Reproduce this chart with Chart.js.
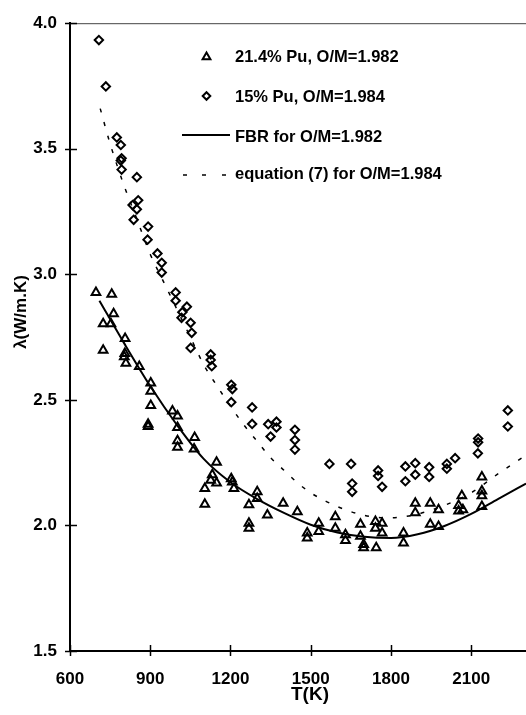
<!DOCTYPE html>
<html>
<head>
<meta charset="utf-8">
<script src="https://cdn.jsdelivr.net/npm/chart.js@4.4.1/dist/chart.umd.min.js"></script>
<style>
  html, body { margin: 0; padding: 0; background: #fff; overflow: hidden; }
  #wrap { position: absolute; left: 0; top: 0; width: 526px; height: 715px; }
</style>
</head>
<body>
<div id="wrap"><canvas id="chart"></canvas></div>
<script>
// 21.4% Pu, O/M=1.982 (triangles)
const triT = [697, 756, 763, 724, 753, 806, 724, 805, 803, 809, 859, 902, 902, 902, 892, 892, 983, 1002, 1002, 1002,
  1002, 1066, 1064, 1148, 1132, 1126, 1148, 1104, 1104, 1203, 1207, 1213, 1300, 1300, 1269, 1269, 1269, 1338, 1397, 1450,
  1487, 1487, 1530, 1530, 1592, 1592, 1630, 1630, 1686, 1686, 1698, 1698, 1742, 1742, 1767, 1767, 1745, 1847, 1847, 1891,
  1891, 1947, 1978, 1947, 1978, 2053, 2065, 2053, 2069, 2140, 2140, 2140, 2140];
const triLambda = [2.928, 2.921, 2.843, 2.803, 2.803, 2.744, 2.698, 2.685, 2.672, 2.646, 2.633, 2.567, 2.534, 2.478, 2.403, 2.394, 2.456, 2.436, 2.390, 2.337,
  2.311, 2.350, 2.304, 2.252, 2.202, 2.180, 2.169, 2.147, 2.084, 2.186, 2.173, 2.147, 2.134, 2.107, 2.082, 2.009, 1.989, 2.042, 2.088, 2.055,
  1.970, 1.950, 2.009, 1.976, 2.035, 1.989, 1.963, 1.940, 2.005, 1.957, 1.924, 1.911, 2.016, 1.989, 2.009, 1.970, 1.911, 1.970, 1.930, 2.088,
  2.051, 2.088, 2.062, 2.005, 1.996, 2.079, 2.118, 2.058, 2.062, 2.193, 2.137, 2.118, 2.075];

// 15% Pu, O/M=1.984 (diamonds)
const diaT = [708, 734, 775, 790, 793, 790, 793, 850, 855, 834, 850, 838, 892, 890, 927, 943, 943, 995, 995, 1037,
  1020, 1017, 1051, 1055, 1051, 1126, 1126, 1130, 1203, 1207, 1203, 1281, 1281, 1341, 1372, 1372, 1350, 1441, 1441, 1441,
  1570, 1651, 1655, 1655, 1752, 1752, 1767, 1854, 1891, 1891, 1854, 1943, 1943, 2009, 2009, 2040, 2126, 2126, 2125, 2237, 2237];
const diaLambda = [3.933, 3.748, 3.545, 3.515, 3.462, 3.453, 3.417, 3.387, 3.295, 3.276, 3.259, 3.217, 3.190, 3.138, 3.083, 3.046, 3.007, 2.928, 2.895, 2.871,
  2.849, 2.827, 2.807, 2.767, 2.707, 2.681, 2.659, 2.634, 2.560, 2.543, 2.491, 2.470, 2.404, 2.403, 2.413, 2.390, 2.354, 2.381, 2.340, 2.302,
  2.245, 2.245, 2.167, 2.134, 2.219, 2.197, 2.154, 2.235, 2.248, 2.202, 2.176, 2.232, 2.193, 2.245, 2.226, 2.268, 2.346, 2.331, 2.287, 2.458, 2.394];

// FBR for O/M=1.982 (solid curve)
const fbrT = [710, 800, 900, 1000, 1100, 1200, 1300, 1400, 1500, 1600, 1700, 1800, 1900, 2000, 2100, 2200, 2305];
const fbrLambda = [2.895, 2.73, 2.555, 2.40, 2.265, 2.172, 2.105, 2.05, 2.003, 1.972, 1.955, 1.950, 1.965, 1.998, 2.046, 2.105, 2.167];

// equation (7) for O/M=1.984 (dashed curve)
const eqT = [713, 750, 800, 850, 900, 950, 1000, 1050, 1100, 1150, 1200, 1250, 1300, 1350, 1400, 1450, 1500, 1550,
  1600, 1650, 1700, 1750, 1800, 1850, 1900, 2000, 2100, 2200, 2305];
const eqLambda = [3.66, 3.52, 3.36, 3.22, 3.08, 2.97, 2.86, 2.75, 2.64, 2.555, 2.475, 2.40, 2.335, 2.27, 2.22, 2.17, 2.13, 2.10,
  2.075, 2.055, 2.04, 2.032, 2.03, 2.035, 2.045, 2.08, 2.13, 2.205, 2.28];

const legendLabels = ["21.4% Pu, O/M=1.982", "15% Pu, O/M=1.984", "FBR for O/M=1.982", "equation (7) for O/M=1.984"];
const xTitle = "T(K)";
const yTitle = "λ(W/m.K)";

const tickFont = { family: "'Liberation Sans', Arial, sans-serif", size: 17, weight: "bold" };
const boldFont = (size) => `bold ${size}px 'Liberation Sans', Arial, sans-serif`;

const toPoints = (xs, ys) => xs.map((x, i) => ({ x: x, y: ys[i] }));

function strokeLine(ctx, x1, y1, x2, y2) {
  ctx.beginPath();
  ctx.moveTo(x1, y1);
  ctx.lineTo(x2, y2);
  ctx.stroke();
}

function triangleMark(ctx, cx, cy, r) {
  ctx.beginPath();
  ctx.moveTo(cx, cy - r);
  ctx.lineTo(cx + r * 0.866, cy + r * 0.5);
  ctx.lineTo(cx - r * 0.866, cy + r * 0.5);
  ctx.closePath();
  ctx.stroke();
}

function diamondMark(ctx, cx, cy, r) {
  ctx.beginPath();
  ctx.moveTo(cx - r, cy);
  ctx.lineTo(cx, cy - r);
  ctx.lineTo(cx + r, cy);
  ctx.lineTo(cx, cy + r);
  ctx.closePath();
  ctx.stroke();
}

// frame bits, crossing tick marks, axis titles and the in-plot legend
const decorations = {
  id: "decorations",
  afterDraw(chart) {
    const { ctx, chartArea: a, scales } = chart;
    ctx.save();
    ctx.strokeStyle = "#444";
    ctx.lineWidth = 1;
    strokeLine(ctx, a.left, a.top + 0.5, chart.width, a.top + 0.5);

    ctx.strokeStyle = "#000";
    ctx.lineWidth = 1.5;
    scales.y.ticks.forEach((t) => {
      const py = Math.round(scales.y.getPixelForValue(t.value)) + 0.5;
      strokeLine(ctx, a.left - 5, py, a.left + 7, py);
    });
    scales.x.ticks.forEach((t) => {
      const px = Math.round(scales.x.getPixelForValue(t.value)) + 0.5;
      strokeLine(ctx, px, a.bottom - 6, px, a.bottom + 5);
    });

    ctx.fillStyle = "#000";
    ctx.font = boldFont(19);
    ctx.textAlign = "center";
    ctx.textBaseline = "middle";
    ctx.fillText(xTitle, 310, 695);

    ctx.save();
    ctx.translate(21, 312);
    ctx.rotate(-Math.PI / 2);
    ctx.font = boldFont(17);
    ctx.fillText(yTitle, 0, 0);
    ctx.restore();

    // legend
    ctx.font = boldFont(16.5);
    ctx.textAlign = "left";
    ctx.textBaseline = "alphabetic";
    const baselines = [61.5, 101.5, 141.5, 178.5];
    legendLabels.forEach((label, i) => ctx.fillText(label, 235, baselines[i]));

    ctx.lineWidth = 2;
    triangleMark(ctx, 206.5, 57, 4.5);
    diamondMark(ctx, 206.5, 96, 3.8);
    strokeLine(ctx, 182, 135, 230, 135);
    ctx.lineWidth = 1.5;
    [183, 202, 222].forEach((dx) => strokeLine(ctx, dx, 175, dx + 4, 175));
    ctx.restore();
  }
};

new Chart(document.getElementById("chart"), {
  type: "scatter",
  data: {
    datasets: [
      {
        label: legendLabels[2],
        data: toPoints(fbrT, fbrLambda),
        showLine: true,
        borderColor: "#000",
        borderWidth: 2,
        pointRadius: 0,
        cubicInterpolationMode: "monotone"
      },
      {
        label: legendLabels[3],
        data: toPoints(eqT, eqLambda),
        showLine: true,
        borderColor: "#000",
        borderWidth: 1.5,
        borderDash: [4, 10],
        pointRadius: 0,
        cubicInterpolationMode: "monotone"
      },
      {
        label: legendLabels[0],
        data: toPoints(triT, triLambda),
        pointStyle: "triangle",
        pointRadius: 5,
        pointBorderWidth: 2,
        pointBorderColor: "#000",
        pointBackgroundColor: "rgba(0,0,0,0)"
      },
      {
        label: legendLabels[1],
        data: toPoints(diaT, diaLambda),
        pointStyle: "rectRot",
        pointRadius: 4.2,
        pointBorderWidth: 2,
        pointBorderColor: "#000",
        pointBackgroundColor: "rgba(0,0,0,0)"
      }
    ]
  },
  options: {
    responsive: true,
    maintainAspectRatio: false,
    animation: false,
    layout: { autoPadding: false, padding: { left: 0, right: 0, top: 16, bottom: 0 } },
    plugins: {
      legend: { display: false },
      tooltip: { enabled: false }
    },
    scales: {
      x: {
        type: "linear",
        min: 600,
        max: 2305,
        grid: { display: false, drawTicks: false },
        border: { display: true, color: "#000", width: 2 },
        ticks: {
          stepSize: 300,
          includeBounds: false,
          padding: 18,
          color: "#000",
          font: tickFont,
          maxRotation: 0,
          callback: (v) => String(v)
        },
        afterFit: (scale) => {
          scale.height = 64;
          scale.paddingLeft = 0;
          scale.paddingRight = 0;
        }
      },
      y: {
        type: "linear",
        min: 1.5,
        max: 4.0,
        grid: { display: false, drawTicks: false },
        border: { display: true, color: "#000", width: 2 },
        ticks: {
          stepSize: 0.5,
          padding: 13,
          color: "#000",
          font: tickFont,
          callback: (v) => Number(v).toFixed(1)
        },
        afterFit: (scale) => { scale.width = 70; }
      }
    }
  },
  plugins: [decorations]
});
</script>
</body>
</html>
